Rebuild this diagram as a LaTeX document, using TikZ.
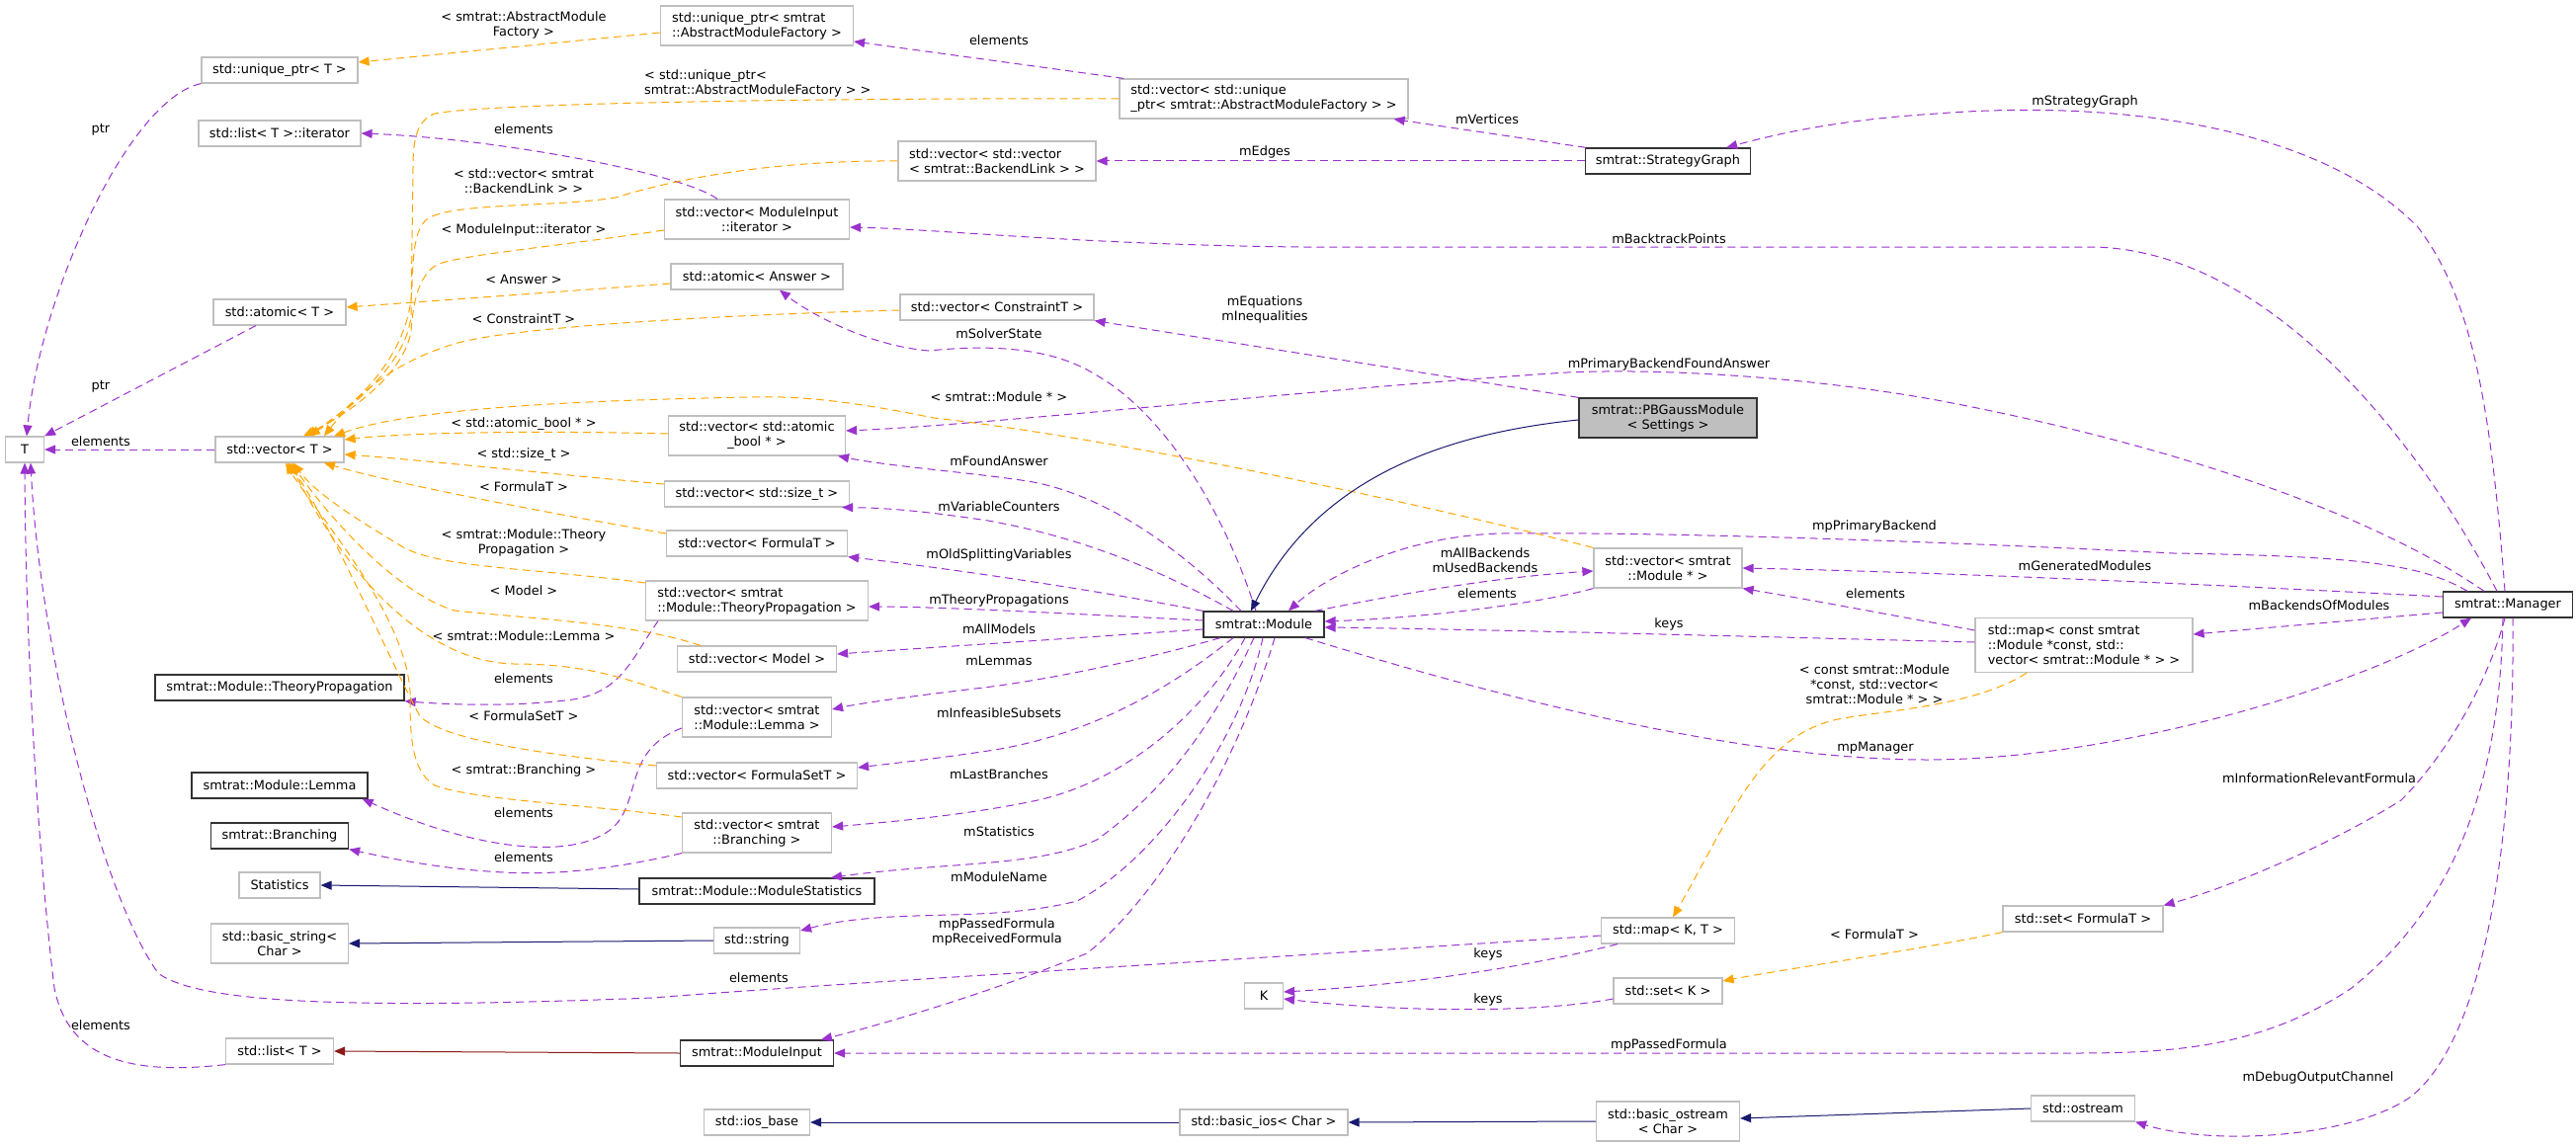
\documentclass[tikz,border=0pt]{standalone}
\usepackage{fontspec}
\setmainfont{DejaVu Sans}
\usetikzlibrary{arrows.meta}
\definecolor{edgeP}{HTML}{9A32CD}
\definecolor{edgeO}{HTML}{FFA500}
\definecolor{edgeB}{HTML}{191970}
\definecolor{edgeR}{HTML}{8B1A1A}
\definecolor{nodeG}{HTML}{BFBFBF}
\definecolor{nodeK}{HTML}{333333}
\begin{document}
\begin{tikzpicture}[x=1pt,y=-1pt,
  every node/.style={font=\fontsize{12.9}{15}\selectfont, inner sep=0pt},
  gn/.style={draw=nodeG, line width=1.2pt, fill=white, rectangle},
  kn/.style={draw=nodeK, line width=1.3pt, fill=white, rectangle},
  sz/.style 2 args={minimum width=#1pt, minimum height=#2pt},
  arr/.style={-{Triangle[length=11pt,width=9pt]}},
  pe/.style={color=edgeP, line width=1pt, dash pattern=on 8pt off 5pt, arr},
  oe/.style={color=edgeO, line width=1pt, dash pattern=on 8pt off 5pt, arr},
  be/.style={color=edgeB, line width=1pt, arr},
  re/.style={color=edgeR, line width=1pt, arr},
  lbl/.style={align=center}
]
\fill[white] (0,0) rectangle (2607,1161);
\useasboundingbox (0,0) rectangle (2607,1161);

% ---------- nodes: left column ----------
\node[gn,sz={39}{26}] (T) at (25,455) {T};
\node[gn,sz={130}{26}] (vecT) at (283,455) {std::vector< T >};
\node[gn,sz={158}{26}] (uptrT) at (283,71) {std::unique\_ptr< T >};
\node[gn,sz={164}{26}] (listIter) at (283,135) {std::list< T >::iterator};
\node[gn,sz={134}{26}] (atomicT) at (283,316) {std::atomic< T >};
\node[kn,sz={252}{26}] (TP) at (283,696) {smtrat::Module::TheoryPropagation};
\node[kn,sz={178}{26}] (Lemma) at (283,795) {smtrat::Module::Lemma};
\node[kn,sz={139}{26}] (Branching) at (283,846) {smtrat::Branching};
\node[gn,sz={82}{26}] (Statistics) at (283,896) {Statistics};
\node[gn,sz={139}{40},align=center] (basicString) at (283,955) {std::basic\_string<\\Char >};
\node[gn,sz={109}{26}] (listT) at (283,1064) {std::list< T >};

% ---------- middle column ----------
\node[gn,sz={195}{40},align=left] (uptrAMF) at (766,26) {std::unique\_ptr< smtrat\\::AbstractModuleFactory >};
\node[gn,sz={187}{40},align=center] (vecMIiter) at (766,222) {std::vector< ModuleInput\\::iterator >};
\node[gn,sz={174}{26}] (atomicAnswer) at (766,280) {std::atomic< Answer >};
\node[gn,sz={179}{40},align=center] (vecAtomicBool) at (766,441) {std::vector< std::atomic\\\_bool * >};
\node[gn,sz={187}{26}] (vecSizeT) at (766,500) {std::vector< std::size\_t >};
\node[gn,sz={183}{26}] (vecFormulaT) at (766,550) {std::vector< FormulaT >};
\node[gn,sz={225}{40},align=left] (vecTP) at (766,608) {std::vector< smtrat\\::Module::TheoryPropagation >};
\node[gn,sz={161}{26}] (vecModel) at (766,667) {std::vector< Model >};
\node[gn,sz={151}{40},align=left] (vecLemma) at (766,726) {std::vector< smtrat\\::Module::Lemma >};
\node[gn,sz={203}{26}] (vecFormulaSetT) at (766,785) {std::vector< FormulaSetT >};
\node[gn,sz={151}{40},align=center] (vecBranching) at (766,843) {std::vector< smtrat\\::Branching >};
\node[kn,sz={238}{26}] (ModuleStatistics) at (766,902) {smtrat::Module::ModuleStatistics};
\node[gn,sz={87}{26}] (string) at (766,952) {std::string};
\node[kn,sz={155}{26}] (ModuleInput) at (766,1066) {smtrat::ModuleInput};
\node[gn,sz={107}{26}] (iosBase) at (766,1136) {std::ios\_base};

% ---------- column 1009 / 1279 ----------
\node[gn,sz={200}{40},align=left] (vecvecBL) at (1009,163) {std::vector< std::vector\\< smtrat::BackendLink > >};
\node[gn,sz={196}{26}] (vecConstraintT) at (1009,311) {std::vector< ConstraintT >};
\node[gn,sz={292}{40},align=left] (vecUptr) at (1279,100) {std::vector< std::unique\\\_ptr< smtrat::AbstractModuleFactory > >};
\node[kn,sz={122}{26}] (Module) at (1279,632) {smtrat::Module};
\node[gn,sz={39}{26}] (K) at (1279,1008) {K};
\node[gn,sz={170}{26}] (basicIos) at (1279,1136) {std::basic\_ios< Char >};

% ---------- column 1688 ----------
\node[kn,sz={167}{26}] (SG) at (1688,163) {smtrat::StrategyGraph};
\node[kn,sz={180}{40},fill=nodeG,align=center] (PBGauss) at (1688,423) {smtrat::PBGaussModule\\< Settings >};
\node[gn,sz={150}{40},align=center] (vecModulePtr) at (1688,575) {std::vector< smtrat\\::Module * >};
\node[gn,sz={135}{26}] (mapKT) at (1688,942) {std::map< K, T >};
\node[gn,sz={110}{26}] (setK) at (1688,1003) {std::set< K >};
\node[gn,sz={145}{40},align=center] (basicOstream) at (1688,1135) {std::basic\_ostream\\< Char >};

% ---------- column 2109 ----------
\node[gn,sz={220}{55},align=left] (mapModules) at (2109,653) {std::map< const smtrat\\::Module *const, std::\\vector< smtrat::Module * > >};
\node[gn,sz={162}{26}] (setFormulaT) at (2108,930) {std::set< FormulaT >};
\node[gn,sz={105}{26}] (ostream) at (2108,1122) {std::ostream};
\node[kn,sz={131}{26}] (Manager) at (2538,612) {smtrat::Manager};

% ---------- purple usage edges ----------
\draw[pe] (uptrT.south west) .. controls (130,100) and (40,300) .. ([xshift=2pt]T.north);
\draw[pe] ([xshift=-24pt]atomicT.south) -- (T.north east);
\draw[pe] (vecT.west) -- (T.east);
\draw[pe] (listT.south west) .. controls (120,1090) and (68,1065) .. (55,1000) .. controls (38,860) and (26,650) .. (T.south);
\draw[pe] ([yshift=-5pt]mapKT.west) .. controls (1200,975) and (850,995) .. (660,1010) .. controls (350,1022) and (200,1015) .. (160,985) .. controls (100,900) and (40,650) .. ([xshift=6pt]T.south);
\draw[pe] ([xshift=-40pt]vecMIiter.north) .. controls (690,175) and (500,140) .. (listIter.east);
\draw[pe] ([xshift=5pt]vecUptr.north west) -- ([yshift=-16pt]uptrAMF.east);
\draw[pe] ([xshift=1pt]SG.north west) -- ([xshift=-15pt]vecUptr.south east);
\draw[pe] (SG.west) -- (vecvecBL.east);
\draw[pe] ([xshift=-3pt]Manager.north) .. controls (2520,400) and (2500,300) .. (2447,230) .. controls (2350,130) and (2150,100) .. (1960,115) .. controls (1850,122) and (1790,138) .. ([xshift=-25pt]SG.north east);
\draw[pe] ([xshift=-11pt]Manager.north) .. controls (2450,450) and (2300,255) .. (2120,250) -- (1320,250) .. controls (1100,248) and (950,232) .. ([yshift=-8pt]vecMIiter.east);
\draw[pe] ([xshift=-8pt]Module.north) .. controls (1240,520) and (1180,420) .. (1110,380) .. controls (1060,348) and (990,350) .. (940,355) .. controls (880,350) and (820,318) .. ([xshift=23pt]atomicAnswer.south);
\draw[pe] (PBGauss.north west) -- (vecConstraintT.south east);
\draw[pe] ([xshift=-24pt]Manager.north) .. controls (2400,520) and (2200,450) .. (1960,405) .. controls (1850,385) and (1700,372) .. (1586,377) .. controls (1350,392) and (1000,430) .. ([yshift=5pt]vecAtomicBool.east);
\draw[pe] ([xshift=-23pt]Module.north) .. controls (1200,560) and (1120,500) .. (1040,487) .. controls (980,478) and (900,472) .. ([xshift=-8pt]vecAtomicBool.south east);
\draw[pe] ([xshift=-31pt]Module.north) .. controls (1180,580) and (1100,545) .. (1000,527) .. controls (940,518) and (900,514) .. ([xshift=-8pt]vecSizeT.south east);
\draw[pe] (Module.north west) .. controls (1150,605) and (1000,580) .. (vecFormulaT.south east);
\draw[pe] ([yshift=4pt]Module.west) .. controls (1100,622) and (950,614) .. ([yshift=-6pt]vecTP.east);
\draw[pe] ([yshift=-5pt]Module.west) .. controls (1100,645) and (950,655) .. ([yshift=5pt]vecModel.east);
\draw[pe] ([xshift=-44pt]Module.south) .. controls (1150,670) and (1050,690) .. (987,697) .. controls (920,705) and (870,712) .. ([yshift=8pt]vecLemma.east);
\draw[pe] ([xshift=-31pt]Module.south) .. controls (1180,700) and (1100,745) .. (1000,760) .. controls (940,769) and (900,773) .. ([yshift=8pt]vecFormulaSetT.east);
\draw[pe] ([xshift=-19pt]Module.south) .. controls (1220,720) and (1140,790) .. (1050,810) .. controls (980,825) and (900,832) .. ([yshift=6pt]vecBranching.east);
\draw[pe] ([xshift=-10pt]Module.south) .. controls (1230,730) and (1180,800) .. (1110,850) .. controls (1050,878) and (960,872) .. ([xshift=75pt]ModuleStatistics.north);
\draw[pe] ([xshift=-1pt]Module.south) .. controls (1255,750) and (1170,870) .. (1090,912) .. controls (1000,935) and (900,918) .. ([yshift=10pt]string.east);
\draw[pe] ([xshift=11pt]Module.south) .. controls (1250,780) and (1170,910) .. (1100,965) .. controls (1000,1005) and (900,1035) .. ([xshift=65pt]ModuleInput.north);
\draw[pe] (vecModulePtr.south west) .. controls (1560,610) and (1450,625) .. ([yshift=3pt]Module.east);
\draw[pe] ([xshift=-10pt]Module.north east) .. controls (1400,605) and (1500,585) .. ([yshift=-3pt]vecModulePtr.west);
\draw[pe] ([xshift=-41pt]Manager.north) .. controls (2450,570) and (2380,563) .. (2200,560) .. controls (2000,550) and (1700,538) .. (1520,540) .. controls (1420,542) and (1340,585) .. ([xshift=25pt]Module.north);
\draw[pe] ([yshift=8pt]Manager.west) .. controls (2300,595) and (2000,580) .. (vecModulePtr.east);
\draw[pe] ([yshift=15pt]mapModules.west) .. controls (1900,620) and (1820,605) .. (vecModulePtr.south east);
\draw[pe] ([yshift=3pt]mapModules.west) .. controls (1800,645) and (1500,637) .. ([yshift=-3pt]Module.east);
\draw[pe] ([xshift=42pt]Module.south) .. controls (1500,700) and (1750,769) .. (1950,769) .. controls (2150,769) and (2400,690) .. ([xshift=-37pt]Manager.south);
\draw[pe] ([yshift=-8pt]Manager.west) -- ([yshift=11pt]mapModules.east);
\draw[pe] ([xshift=-3pt]Manager.south) .. controls (2515,700) and (2470,770) .. (2430,810) .. controls (2350,860) and (2250,900) .. (setFormulaT.north east);
\draw[pe] ([xshift=-5pt]Manager.south) .. controls (2530,800) and (2480,920) .. (2380,1000) .. controls (2290,1060) and (2200,1066) .. (2100,1066) -- (ModuleInput.east);
\draw[pe] ([xshift=5pt]Manager.south) .. controls (2545,850) and (2515,1050) .. (2440,1110) .. controls (2380,1152) and (2240,1160) .. (ostream.south east);
\draw[pe] ([xshift=-100pt]vecTP.south) .. controls (640,665) and (630,700) .. (580,708) .. controls (520,716) and (450,713) .. (TP.south east);
\draw[pe] ([yshift=-11pt]vecLemma.west) .. controls (630,760) and (650,810) .. (620,838) .. controls (580,872) and (480,860) .. ([xshift=-6pt]Lemma.south east);
\draw[pe] (vecBranching.south west) .. controls (620,880) and (560,886) .. (510,883) .. controls (450,880) and (400,870) .. (Branching.south east);
\draw[pe] ([xshift=-51pt]mapKT.south) .. controls (1560,975) and (1450,995) .. ([yshift=4pt]K.east);
\draw[pe] ([yshift=-8pt]setK.west) .. controls (1560,1025) and (1420,1025) .. ([yshift=-3pt]K.east);

% ---------- orange template edges ----------
\draw[oe] ([yshift=-7pt]uptrAMF.west) -- ([yshift=8pt]uptrT.east);
\draw[oe] (vecUptr.west) .. controls (900,99) and (500,103) .. (440,115) .. controls (422,122) and (418,140) .. (418,170) -- (416,320) .. controls (412,365) and (360,410) .. ([xshift=30pt]vecT.north);
\draw[oe] (vecvecBL.west) .. controls (780,162) and (680,182) .. (623,200) .. controls (560,210) and (455,205) .. (432,222) .. controls (420,232) and (418,255) .. (417,290) .. controls (415,360) and (360,410) .. ([xshift=27pt]vecT.north);
\draw[oe] ([yshift=-11pt]vecMIiter.west) .. controls (560,250) and (465,258) .. (442,268) .. controls (422,280) and (418,310) .. (416,335) .. controls (410,375) and (360,415) .. ([xshift=24pt]vecT.north);
\draw[oe] ([yshift=-7pt]atomicAnswer.west) -- ([yshift=5pt]atomicT.east);
\draw[oe] ([yshift=-3pt]vecConstraintT.west) .. controls (750,318) and (520,330) .. (460,348) .. controls (400,366) and (362,398) .. ([xshift=45pt]vecT.north);
\draw[oe] (vecModulePtr.north west) .. controls (1400,500) and (1100,440) .. (945,423) .. controls (880,410) and (820,400) .. (760,402) .. controls (600,405) and (420,412) .. ([xshift=55pt]vecT.north);
\draw[oe] ([yshift=2pt]vecAtomicBool.west) .. controls (560,436) and (420,437) .. ([yshift=10pt]vecT.east);
\draw[oe] ([yshift=10pt]vecSizeT.west) .. controls (560,480) and (420,465) .. ([yshift=-5pt]vecT.east);
\draw[oe] ([yshift=10pt]vecFormulaT.west) .. controls (560,520) and (400,490) .. ([xshift=45pt]vecT.south);
\draw[oe] ([yshift=18pt]vecTP.west) .. controls (540,575) and (450,575) .. (410,555) .. controls (360,525) and (320,500) .. ([xshift=14pt]vecT.south);
\draw[oe] ([xshift=-57pt]vecModel.north) .. controls (640,630) and (520,625) .. (460,618) .. controls (400,600) and (330,520) .. ([xshift=12pt]vecT.south);
\draw[oe] (vecLemma.north west) .. controls (640,690) and (600,672) .. (520,672) .. controls (440,670) and (360,600) .. ([xshift=10pt]vecT.south);
\draw[oe] ([yshift=10pt]vecFormulaSetT.west) .. controls (560,765) and (450,750) .. (425,725) .. controls (400,680) and (330,520) .. ([xshift=8pt]vecT.south);
\draw[oe] ([yshift=16pt]vecBranching.west) .. controls (600,815) and (480,810) .. (440,795) .. controls (415,780) and (415,740) .. (415,700) .. controls (410,620) and (320,520) .. ([xshift=6pt]vecT.south);
\draw[oe] ([xshift=-58pt]mapModules.south) .. controls (2000,715) and (1900,720) .. (1860,728) .. controls (1780,745) and (1750,830) .. ([xshift=5pt]mapKT.north);
\draw[oe] (setFormulaT.south west) .. controls (1950,960) and (1800,982) .. ([yshift=10pt]setK.east);

% ---------- inheritance edges ----------
\draw[be] ([yshift=-2pt]PBGauss.west) .. controls (1450,440) and (1330,490) .. ([xshift=-13pt]Module.north);
\draw[be] ([yshift=2pt]ModuleStatistics.west) -- (Statistics.east);
\draw[be] (string.west) -- (basicString.east);
\draw[re] (ModuleInput.west) -- (listT.east);
\draw[be] (basicIos.west) -- (iosBase.east);
\draw[be] (basicOstream.west) -- (basicIos.east);
\draw[be] (ostream.west) -- ([yshift=3pt]basicOstream.east);

% ---------- edge labels ----------
\node[lbl] (la1) at (530,25) {< smtrat::AbstractModule\\Factory >};
\node (la2) at (102,131) {ptr};
\node (la3) at (530,131) {elements};
\node[lbl] (la4) at (530,183) {< std::vector< smtrat\\::BackendLink > >};
\node (la5) at (530,233) {< ModuleInput::iterator >};
\node (la6) at (530,283) {< Answer >};
\node (la7) at (530,323) {< ConstraintT >};
\node (la8) at (102,391) {ptr};
\node[anchor=west,align=left] (la9) at (652,84) {< std::unique\_ptr<\\smtrat::AbstractModuleFactory > >};
\node (la10) at (1011,41) {elements};
\node (la11) at (1280,154) {mEdges};
\node[lbl] (la12) at (1280,313) {mEquations\\mInequalities};
\node (la13) at (1011,338) {mSolverState};
\node (la14) at (1011,402) {< smtrat::Module * >};
\node (la15) at (1505,121) {mVertices};
\node (la16) at (1689,242) {mBacktrackPoints};
\node (la17) at (1689,369) {mPrimaryBackendFoundAnswer};
\node (la18) at (2110,103) {mStrategyGraph};
\node (la19) at (102,447) {elements};
\node (la20) at (530,429) {< std::atomic\_bool * >};
\node (la21) at (530,460) {< std::size\_t >};
\node (la22) at (530,493) {< FormulaT >};
\node[lbl] (la23) at (530,549) {< smtrat::Module::Theory\\Propagation >};
\node (la24) at (530,598) {< Model >};
\node (la25) at (530,644) {< smtrat::Module::Lemma >};
\node (la26) at (530,687) {elements};
\node (la27) at (530,725) {< FormulaSetT >};
\node (la28) at (530,780) {< smtrat::Branching >};
\node (la29) at (1011,467) {mFoundAnswer};
\node (la30) at (1011,513) {mVariableCounters};
\node (la31) at (1011,562) {mOldSplittingVariables};
\node (la32) at (1011,608) {mTheoryPropagations};
\node (la33) at (1011,637) {mAllModels};
\node (la34) at (1011,669) {mLemmas};
\node (la35) at (1011,722) {mInfeasibleSubsets};
\node (la36) at (1011,784) {mLastBranches};
\node (la37) at (1897,533) {mpPrimaryBackend};
\node[lbl] (la38) at (1503,567) {mAllBackends\\mUsedBackends};
\node (la39) at (1505,601) {elements};
\node (la40) at (1689,632) {keys};
\node (la41) at (1898,601) {elements};
\node[lbl] (la42) at (1897,693) {< const smtrat::Module\\*const, std::vector<\\smtrat::Module * > >};
\node (la43) at (1898,757) {mpManager};
\node (la44) at (2110,573) {mGeneratedModules};
\node (la45) at (2347,613) {mBackendsOfModules};
\node (la46) at (2347,788) {mInformationRelevantFormula};
\node (la47) at (530,823) {elements};
\node (la48) at (530,868) {elements};
\node (la49) at (102,1038) {elements};
\node (la50) at (1011,842) {mStatistics};
\node (la51) at (1011,888) {mModuleName};
\node[lbl] (la52) at (1009,943) {mpPassedFormula\\mpReceivedFormula};
\node (la53) at (768,990) {elements};
\node (la54) at (1506,966) {keys};
\node (la55) at (1506,1012) {keys};
\node (la56) at (1897,946) {< FormulaT >};
\node (la57) at (1689,1058) {mpPassedFormula};
\node (la58) at (2346,1091) {mDebugOutputChannel};
\end{tikzpicture}
\end{document}
